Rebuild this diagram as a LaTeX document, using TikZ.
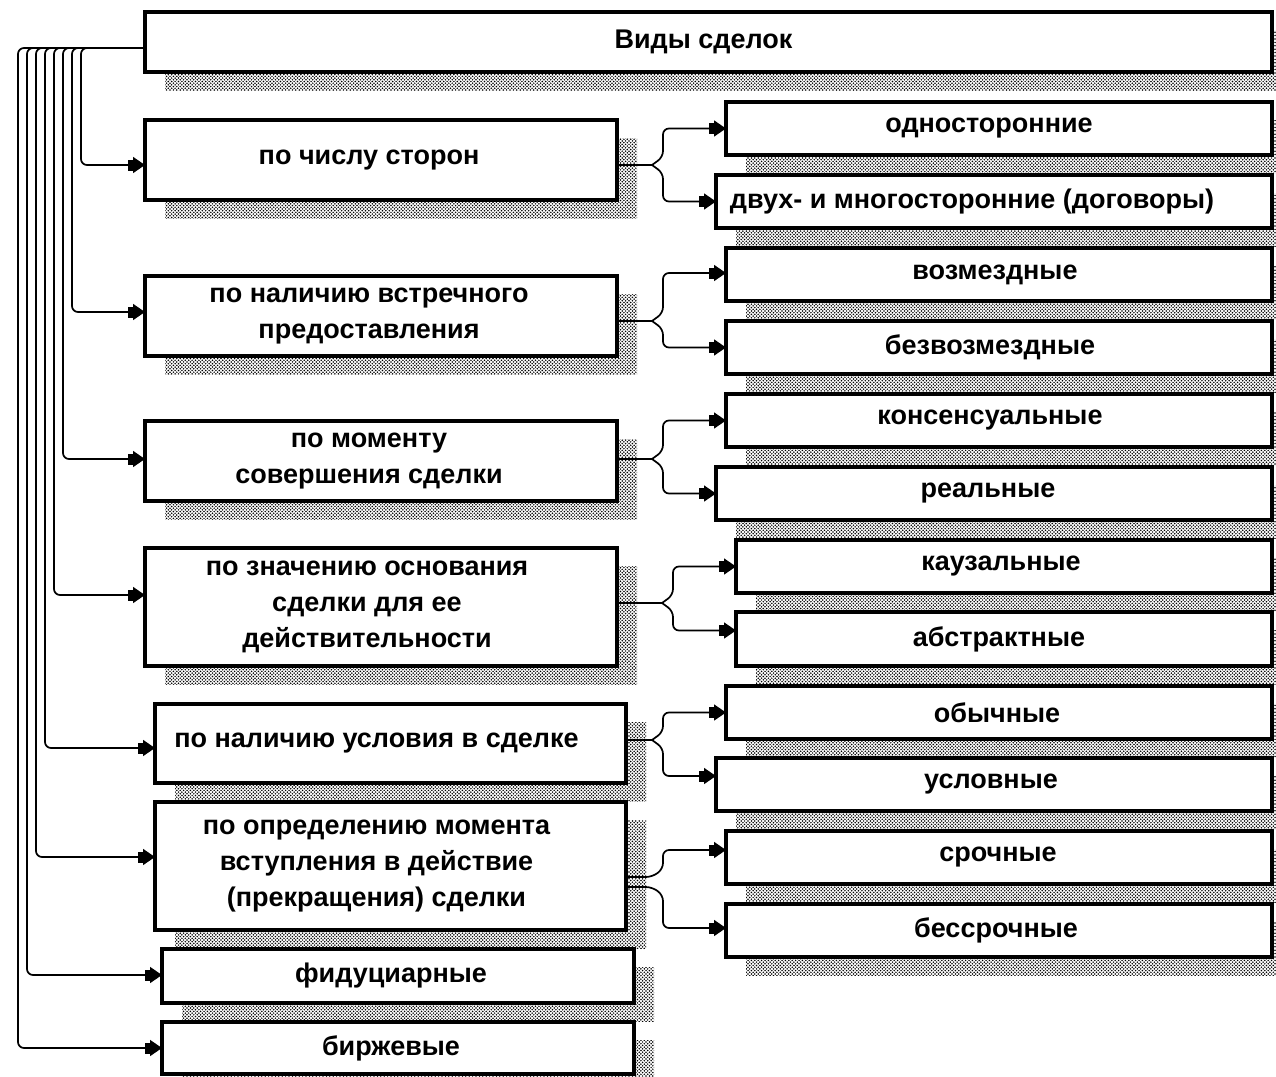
\documentclass[tikz,border=0pt]{standalone}
\usepackage{fontspec}
\setmainfont{Liberation Sans}
\usetikzlibrary{arrows.meta,patterns,calc}
\pgfdeclarepatternformonly{shadowdots}{\pgfqpoint{-1pt}{-1pt}}{\pgfqpoint{5pt}{5pt}}{\pgfqpoint{3.4pt}{3.4pt}}{%
  \pgfpathcircle{\pgfqpoint{0pt}{0pt}}{0.85pt}%
  \pgfpathcircle{\pgfqpoint{1.7pt}{1.7pt}}{0.85pt}%
  \pgfusepath{fill}}
\newcommand\mybox[5]{%
  \fill[shadowfill] (#2+20,#3+18) rectangle (#4+20,#5+18);
  \node[box,minimum width={#4-#2},minimum height={#5-#3}] (#1) at ({(#2+#4)/2},{(#3+#5)/2}) {};
}
\begin{document}
\begin{tikzpicture}[x=1pt,y=-1pt,
  box/.style={draw=black,line width=4.2pt,fill=white,inner sep=0pt,outer sep=0pt},
  shadowfill/.style={pattern=shadowdots,pattern color=black},
  lbl/.style={font=\fontsize{27}{36}\selectfont\bfseries,align=center,inner sep=0pt},
  wire/.style={line width=1.7pt,rounded corners=6pt},
  conn/.style={line width=1.7pt,rounded corners=6pt,-{Square[length=5pt,width=11pt]Triangle[length=12pt,width=16pt]}}]
\useasboundingbox (0,0) rectangle (1276,1076);
\clip (0,0) rectangle (1276,1076);
\fill[white] (0,0) rectangle (1276,1076);

% title
\mybox{T}{145}{12}{1272}{72}
\node[lbl] (Tt) at ([xshift=-5pt]T.center) {Виды сделок};

% left boxes
\mybox{L1}{145}{120}{617}{200}
\node[lbl] (L1t) at ([xshift=-12pt]L1.center) {по числу сторон};
\mybox{L2}{145}{276}{617}{356}
\node[lbl] (L2t) at ([xshift=-12pt]L2.center) {по наличию встречного\\предоставления};
\mybox{L3}{145}{421}{617}{501}
\node[lbl] (L3t) at ([xshift=-12pt]L3.center) {по моменту\\совершения сделки};
\mybox{L4}{145}{548}{617}{666}
\node[lbl] (L4t) at ([xshift=-14pt]L4.center) {по значению основания\\сделки для ее\\действительности};
\mybox{L5}{155}{704}{626}{783}
\node[lbl] (L5t) at ([xshift=-14pt]L5.center) {по наличию условия в сделке};
\mybox{L6}{155}{802}{626}{930}
\node[lbl] (L6t) at ([xshift=-14pt]L6.center) {по определению момента\\вступления в действие\\(прекращения) сделки};
\mybox{L7}{162}{949}{634}{1003}
\node[lbl] (L7t) at ([xshift=-7pt]L7.center) {фидуциарные};
\mybox{L8}{162}{1022}{634}{1074}
\node[lbl] (L8t) at ([xshift=-7pt]L8.center) {биржевые};

% right boxes
\mybox{R1}{726}{102}{1272}{155}
\node[lbl] (R1t) at ([xshift=-10pt]R1.center) {односторонние};
\mybox{R2}{716}{175}{1272}{228}
\node[lbl] (R2t) at ([xshift=-22pt]R2.center) {двух- и многосторонние (договоры)};
\mybox{R3}{726}{248}{1272}{301}
\node[lbl] (R3t) at ([xshift=-4pt]R3.center) {возмездные};
\mybox{R4}{726}{321}{1272}{374}
\node[lbl] (R4t) at ([xshift=-9pt]R4.center) {безвозмездные};
\mybox{R5}{726}{394}{1272}{447}
\node[lbl] (R5t) at ([xshift=-9pt]R5.center) {консенсуальные};
\mybox{R6}{716}{467}{1272}{520}
\node[lbl] (R6t) at ([xshift=-6pt]R6.center) {реальные};
\mybox{R7}{736}{540}{1272}{593}
\node[lbl] (R7t) at ([xshift=-3pt]R7.center) {каузальные};
\mybox{R8}{736}{612}{1272}{666}
\node[lbl] (R8t) at ([xshift=-5pt]R8.center) {абстрактные};
\mybox{R9}{726}{686}{1272}{739}
\node[lbl] (R9t) at ([xshift=-2pt]R9.center) {обычные};
\mybox{R10}{716}{758}{1272}{811}
\node[lbl] (R10t) at ([xshift=-3pt]R10.center) {условные};
\mybox{R11}{726}{831}{1272}{884}
\node[lbl] (R11t) at ([xshift=-1pt]R11.center) {срочные};
\mybox{R12}{726}{904}{1272}{957}
\node[lbl] (R12t) at ([xshift=-3pt]R12.center) {бессрочные};

% left bus
\coordinate (bt) at ([yshift=-6pt]T.west);
\draw[conn] (bt) -| (81,165) -- ([yshift=-5pt]L1.west);
\draw[conn] (bt) -| (72,312) -- ([yshift=4pt]L2.west);
\draw[conn] (bt) -| (63,459) -- ([yshift=2pt]L3.west);
\draw[conn] (bt) -| (54,595) -- ([yshift=12pt]L4.west);
\draw[conn] (bt) -| (45,748) -- ([yshift=-4.5pt]L5.west);
\draw[conn] (bt) -| (36,857) -- ([yshift=9pt]L6.west);
\draw[conn] (bt) -| (27,975) -- ([yshift=1pt]L7.west);
\draw[conn] (bt) -| (18,1048) -- (L8.west);

% right forks
\draw[wire] ([yshift=-5pt]L1.east) -- ++(35,0) coordinate (f1);
\draw[conn] (f1) -- ++(11,-8) |- (R1.west);
\draw[conn] (f1) -- ++(11,8) |- (R2.west);

\draw[wire] ([yshift=-5pt]L2.east) -- ++(35,0) coordinate (f2);
\draw[conn] (f2) -- ++(11,-8) |- ([yshift=1.5pt]R3.west);
\draw[conn] (f2) -- ++(11,8) |- (R4.west);

\draw[wire] ([yshift=2pt]L3.east) -- ++(35,0) coordinate (f3);
\draw[conn] (f3) -- ++(11,-8) |- (R5.west);
\draw[conn] (f3) -- ++(11,8) |- (R6.west);

\draw[wire] ([yshift=4pt]L4.east) -- ++(45,0) coordinate (f4);
\draw[conn] (f4) -- ++(11,-8) |- (R7.west);
\draw[conn] (f4) -- ++(11,8) |- ([yshift=8.5pt]R8.west);

\draw[wire] ([yshift=3.5pt]L5.east) -- ++(26,0) coordinate (f5);
\draw[conn] (f5) -- ++(11,-8) |- (R9.west);
\draw[conn] (f5) -- ++(11,8) |- ([yshift=8.5pt]R10.west);

\draw[conn] ([yshift=-11pt]L6.east) -- ++(26,0) -- ++(11,-8) |- ([yshift=7.5pt]R11.west);
\draw[conn] ([yshift=-21pt]L6.east) -- ++(26,0) -- ++(11,8) |- ([yshift=2.5pt]R12.west);
\end{tikzpicture}
\end{document}
